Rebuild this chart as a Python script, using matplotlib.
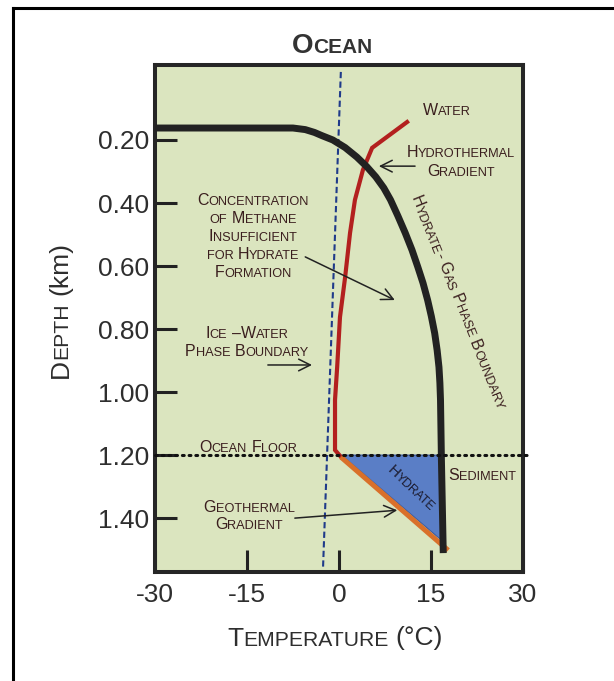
import numpy as np
import matplotlib
matplotlib.use('Agg')
import matplotlib.pyplot as plt
from matplotlib.font_manager import FontProperties
from matplotlib.lines import Line2D
from matplotlib.transforms import IdentityTransform

plt.rcParams['font.family'] = ['Liberation Sans', 'DejaVu Sans']

W, H, DPI = 614, 681, 100

# values: temperature (C) and depth (km)
# hydrate - gas phase boundary (black)
hgb_temp = [-30, -7.5, -5.5, -4.0, -2.8, -1.0, 1.0, 2.9, 4.5, 6.0, 7.3, 8.4, 9.6, 10.8,
            11.9, 12.85, 13.7, 14.45, 15.05, 15.6, 16.0, 16.3, 16.45, 16.55, 16.7, 17.0]
hgb_depth = [0.162, 0.162, 0.167, 0.176, 0.186, 0.200, 0.224, 0.254, 0.284, 0.317, 0.352, 0.390, 0.441, 0.495,
             0.549, 0.603, 0.654, 0.708, 0.759, 0.813, 0.867, 0.921, 0.971, 1.025, 1.216, 1.511]
# hydrothermal gradient (red)
hydro_temp = [11.1, 5.4, 3.9, 2.6, 1.8, 1.0, 0.16, -0.3, -0.65, -0.65, 0.33]
hydro_depth = [0.143, 0.225, 0.295, 0.390, 0.495, 0.635, 0.762, 0.921, 1.025, 1.184, 1.206]
# ice - water phase boundary (blue dashed)
ice_temp = [0.3, -2.6]
ice_depth = [-0.016, 1.556]
# geothermal gradient (orange)
geo_temp = [0.3, 17.8]
geo_depth = [1.206, 1.502]
# hydrate zone
hyd_temp = [0.4, 16.4, 16.7]
hyd_depth = [1.20, 1.20, 1.47]
floor_depth = 1.20

xticks = [-30, -15, 0, 15, 30]
yticks = [0.20, 0.40, 0.60, 0.80, 1.00, 1.20, 1.40]

TXT = '#3a1e1e'
FONT = 'Liberation Sans'

fig = plt.figure(figsize=(W / DPI, H / DPI), dpi=DPI)
ax = fig.add_axes([155 / W, 1 - 572 / H, 368 / W, 507 / H])
ax.set_facecolor('#dbe5bf')

ax.fill(hyd_temp, hyd_depth, color='#5a7ec6', ec='#3a5aa0', lw=0.8, zorder=1)
ax.axhline(floor_depth, xmin=0, xmax=1.012, color='#111111', lw=2.2,
           linestyle=(0, (0.6, 1.6)), dash_capstyle='round', clip_on=False, zorder=5)
ax.plot(ice_temp, ice_depth, color='#1f3a8a', lw=1.5, linestyle=(0, (3, 1.6)), zorder=2)
ax.plot(hydro_temp, hydro_depth, color='#b3201f', lw=3, solid_joinstyle='miter', zorder=3)
ax.plot(geo_temp, geo_depth, color='#d9702a', lw=3.6, solid_capstyle='butt', zorder=3)
ax.plot(hgb_temp, hgb_depth, color='#222222', lw=5, solid_capstyle='butt',
        solid_joinstyle='round', zorder=4)

ax.set_xlim(-30, 30)
ax.set_ylim(1.571, -0.038)
ax.set_xticks(xticks)
ax.set_xticklabels([str(v) for v in xticks])
ax.set_yticks(yticks)
ax.set_yticklabels(['%.2f' % v for v in yticks])
ax.tick_params(direction='in', length=15.8, width=2.2, color='#222222',
               labelsize=19, labelcolor='#2e2e2e')
ax.tick_params(axis='x', pad=8)
ax.tick_params(axis='y', pad=4)
for s in ax.spines.values():
    s.set_linewidth(2.9)
    s.set_color('#262626')

# frame around the figure (left and top only, the rest is cropped)
fig.add_artist(Line2D([13 / W, 13 / W], [0, 1 - 8 / H], color='black', lw=2.2))
fig.add_artist(Line2D([13 / W, 1], [1 - 8 / H, 1 - 8 / H], color='black', lw=2.2))

renderer = fig.canvas.get_renderer()


def split_runs(s):
    runs = []
    keep = False
    for ch in s:
        if ch == '{':
            keep = True
            continue
        if ch == '}':
            keep = False
            continue
        if ch == ' ':
            kind = 'sp'
        elif ch.islower() and not keep:
            kind = 'sm'
            ch = ch.upper()
        else:
            kind = 'bg'
        if runs and runs[-1][0] == kind:
            runs[-1][1] += ch
        else:
            runs.append([kind, ch])
    return runs


def smallcaps(xy, s, size=11.5, rot=0, ratio=0.8, gap=1.15, color=TXT, weight='normal'):
    # fake small caps: capitals at full size, lower case as smaller capitals
    px = size * DPI / 72
    th = np.deg2rad(rot)
    u = np.array([np.cos(th), np.sin(th)])
    v = np.array([-np.sin(th), np.cos(th)])
    lines = s.split('\n')
    n = len(lines)
    for i, line in enumerate(lines):
        runs = split_runs(line)
        items = []
        for kind, t in runs:
            fs = size * ratio if kind == 'sm' else size
            if kind == 'sp':
                w = len(t) * 0.278 * px
            else:
                prop = FontProperties(family=FONT, size=fs, weight=weight)
                w = renderer.get_text_width_height_descent(t, prop, ismath=False)[0]
            items.append((kind, t, fs, w))
        total = sum(it[3] for it in items)
        off = ((n - 1) / 2 - i) * gap * px - 0.36 * px
        pos = np.array(xy, dtype=float) + v * off - u * total / 2
        for kind, t, fs, w in items:
            if kind != 'sp':
                fig.text(pos[0], pos[1], t, transform=IdentityTransform(), fontsize=fs,
                         family=FONT, weight=weight, color=color, rotation=rot,
                         rotation_mode='anchor', ha='left', va='baseline')
            pos = pos + u * w


def img(x, y):
    # picture pixel (from top left) -> display
    return (x, H - y)


def dat(t, d):
    return ax.transData.transform((t, d))


smallcaps(img(332, 43), 'Ocean', size=20, ratio=0.75, color='#333333', weight='bold')
smallcaps(img(335, 636), 'Temperature (°C)', size=19, ratio=0.8, color='#2e2e2e')
smallcaps(img(58, 310), 'Depth {(km)}', size=19, rot=90, ratio=0.8, color='#2e2e2e')

smallcaps(dat(17.6, 0.102), 'Water')
smallcaps(dat(19.9, 0.265), 'Hydrothermal\nGradient', gap=1.18)
smallcaps(dat(-14.0, 0.502), 'Concentration\nof Methane\nInsufficient\nfor Hydrate\nFormation', gap=1.13)
smallcaps(dat(-15.0, 0.838), 'Ice –Water\nPhase Boundary', gap=1.13)
smallcaps(dat(19.6, 0.714), 'Hydrate- Gas Phase Boundary', rot=-68)
smallcaps(dat(11.9, 1.302), 'Hydrate', size=11, rot=-43, color='#1c1c30')
smallcaps(dat(-14.8, 1.171), 'Ocean Floor')
smallcaps(dat(23.3, 1.260), 'Sediment')
smallcaps(dat(-14.7, 1.389), 'Geothermal\nGradient', gap=1.07)

arrow = dict(arrowstyle='->,head_length=0.6,head_width=0.3', color='#222222', lw=1.1,
             mutation_scale=14, shrinkA=0, shrinkB=0)
ax.annotate('', xy=(6.5, 0.283), xytext=(12.4, 0.283), arrowprops=arrow, zorder=6)
ax.annotate('', xy=(9.1, 0.708), xytext=(-5.5, 0.571), arrowprops=arrow, zorder=6)
ax.annotate('', xy=(-4.4, 0.914), xytext=(-11.6, 0.914), arrowprops=arrow, zorder=6)
ax.annotate('', xy=(9.5, 1.375), xytext=(-7.2, 1.40), arrowprops=arrow, zorder=6)

fig.savefig('out.png', dpi=DPI)
